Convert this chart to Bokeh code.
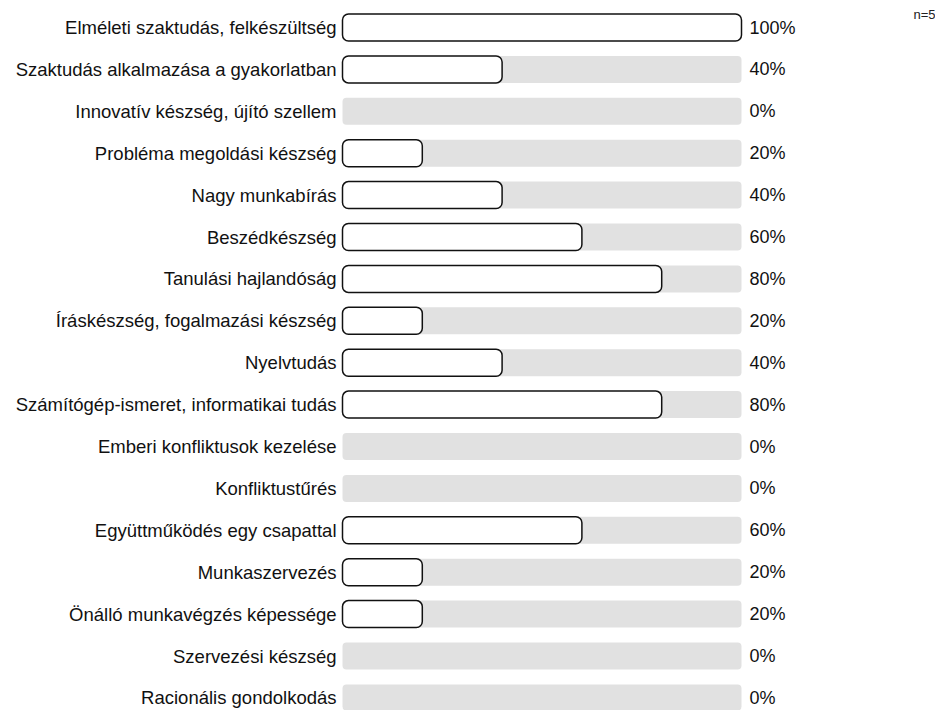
from bokeh.plotting import figure
from bokeh.models import Range1d, ColumnDataSource, Label
from bokeh.core.properties import value
from bokeh.embed import file_html
from bokeh.resources import INLINE

categories = [
    "Elméleti szaktudás, felkészültség",
    "Szaktudás alkalmazása a gyakorlatban",
    "Innovatív készség, újító szellem",
    "Probléma megoldási készség",
    "Nagy munkabírás",
    "Beszédkészség",
    "Tanulási hajlandóság",
    "Íráskészség, fogalmazási készség",
    "Nyelvtudás",
    "Számítógép-ismeret, informatikai tudás",
    "Emberi konfliktusok kezelése",
    "Konfliktustűrés",
    "Együttműködés egy csapattal",
    "Munkaszervezés",
    "Önálló munkavégzés képessége",
    "Szervezési készség",
    "Racionális gondolkodás",
]
values = [100, 40, 0, 20, 40, 60, 80, 20, 40, 80, 0, 0, 60, 20, 20, 0, 0]
n_label = "n=5"

W, H = 935, 710
px_per_unit = 3.99
x0_px = 342
pitch = 41.9
row0_px = 27

ys = list(range(len(categories)))
src_all = ColumnDataSource(dict(
    y=ys,
    cat=categories,
    val=values,
    pct=[f"{v}%" for v in values],
    full=[100] * len(values),
))
nz = [i for i, v in enumerate(values) if v > 0]
src_bar = ColumnDataSource(dict(
    y=[ys[i] for i in nz],
    val=[values[i] for i in nz],
))

p = figure(
    width=W, height=H,
    x_range=Range1d(-x0_px / px_per_unit, (W - x0_px) / px_per_unit),
    y_range=Range1d((H - row0_px) / pitch, -row0_px / pitch),
    output_backend="svg", toolbar_location=None,
    min_border=0, outline_line_color=None,
)
p.axis.visible = False
p.grid.visible = False
p.background_fill_color = "white"
p.border_fill_color = "white"

bh = 27 / pitch
p.hbar(y="y", left=0, right="full", height=bh, source=src_all,
       fill_color="#e1e1e1", line_color=None, border_radius=4)
p.hbar(y="y", left=0, right="val", height=bh, source=src_bar,
       fill_color="white", line_color="#111111", line_width=1.5, border_radius=6)

p.text(x=-6 / px_per_unit, y="y", text="cat", source=src_all,
       text_align="right", text_baseline="middle",
       text_font=value("Liberation Sans"), text_font_size="18.5px", text_color="#111111")
p.text(x=100 + 8 / px_per_unit, y="y", text="pct", source=src_all,
       text_align="left", text_baseline="middle",
       text_font=value("Liberation Sans"), text_font_size="18px", text_color="#111111")

p.add_layout(Label(x=W, y=H - 6, x_units="screen", y_units="screen", text=n_label,
                   text_align="right", text_baseline="top",
                   text_font="Liberation Sans", text_font_size="13px", text_color="#222222"))

open("out.html", "w").write(file_html(p, INLINE))
